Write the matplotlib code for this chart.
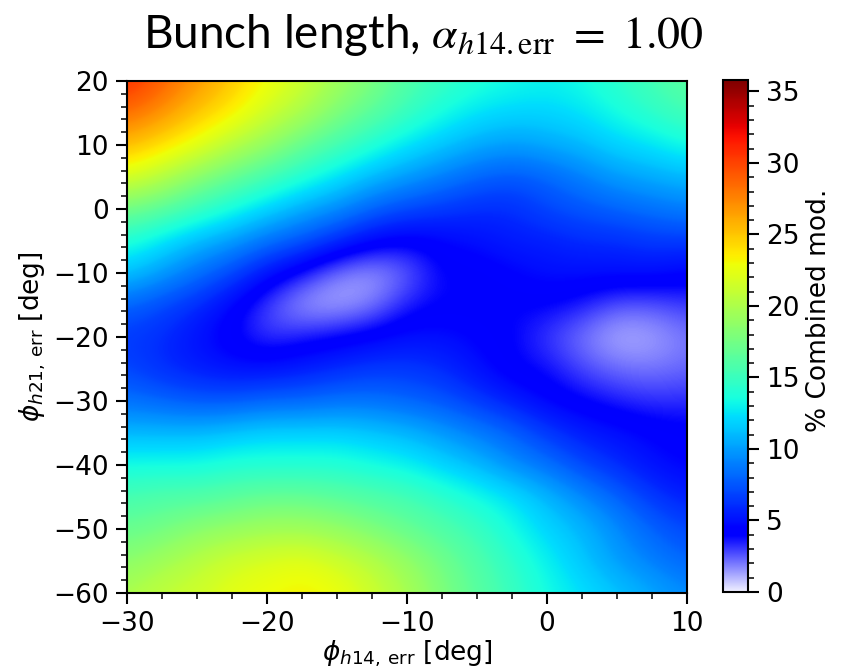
import matplotlib
matplotlib.use("Agg")
import matplotlib.pyplot as plt
import numpy as np
from matplotlib.colors import LinearSegmentedColormap
from matplotlib.ticker import MultipleLocator

# grid (values in % combined modulation)
phi_h14 = [-30, -27.5, -25, -22.5, -20, -17.5, -15, -12.5, -10,
           -7.5, -5, -2.5, 0, 2.5, 5, 7.5, 10]
phi_h21 = [20, 15, 10, 5, 0, -5, -10, -15, -20, -25, -30,
           -35, -40, -45, -50, -55, -60]

mod_rows = [
    [31, 29, 27, 25, 23, 21.5, 19.5, 18, 16, 15, 14, 13.5, 13, 13.5, 14.5, 15.5, 16.5],
    [28.5, 27, 25, 23.5, 21.5, 20, 18, 16.5, 15, 13.5, 12.5, 12, 12, 12.5, 13.5, 14.5, 15.5],
    [25.5, 24, 22.5, 20.5, 19, 17, 15.5, 14, 12.5, 11.5, 10.5, 10, 10.5, 11, 12, 12.5, 13.5],
    [22, 20.5, 18.5, 17, 15.5, 14, 12.5, 11, 10, 9, 8, 7.5, 8, 9, 10, 10.5, 11],
    [17.5, 16.5, 15, 13.5, 12, 10.5, 9.5, 8, 7, 6.5, 6, 6, 7, 7.5, 8, 8.5, 9],
    [14, 12.5, 11, 10, 8.5, 7.5, 6, 4.5, 4, 4.5, 5, 5.5, 5.5, 6, 6, 6.5, 6.5],
    [11.5, 10, 8.5, 7, 5, 3.5, 1.8, 1.3, 2.3, 4, 4, 4.5, 5, 5, 5, 5, 4.5],
    [8, 7, 6, 4.5, 2.8, 1.3, 1.1, 1.8, 3.5, 4, 4, 4, 4, 3.5, 2.5, 2.5, 3],
    [6.5, 6, 5, 4, 3, 3.5, 4, 4.5, 5, 5, 4.5, 4, 3, 2, 1, 1.2, 2],
    [7, 6, 5.5, 5, 5, 5.5, 6, 6.5, 6.5, 6, 5, 4, 3.8, 2.8, 2.2, 2, 2.3],
    [8.5, 8, 7.5, 7.5, 8, 8, 8.5, 8.5, 8, 7.5, 6.5, 5.5, 4.5, 4, 3.5, 3.2, 3.3],
    [11, 11, 11, 11.5, 12, 12, 12, 11.5, 11, 10, 9, 8, 6.5, 5.5, 5, 4.5, 4.2],
    [13.5, 13.5, 13.5, 14, 14, 14, 14, 13.5, 13, 12, 11, 9.5, 8.5, 7, 6, 5, 4.5],
    [15.5, 16, 16, 16.5, 17, 17, 16.5, 16, 15.5, 14.5, 13.5, 12.5, 11, 9.5, 8, 6.5, 5.5],
    [17, 17.5, 18.5, 19, 19.5, 19.5, 19, 18, 17, 16, 15, 13.5, 12, 11, 9.5, 8, 7],
    [18.5, 19.5, 20.5, 21.5, 22, 22.5, 21.5, 20.5, 19, 17.5, 16, 14.5, 13, 11.5, 10, 9, 8],
    [20, 21, 21.5, 22.5, 23, 23.5, 23, 21.5, 20, 18, 16.5, 15, 13.5, 12.5, 11.5, 10.5, 9.5],
]

# jet with a white -> blue start
jet = plt.get_cmap("jet")
stops = [(0.0, (0.95, 0.95, 1.0))] + [(t, jet(t)) for t in np.linspace(0.11, 1, 100)]
cmap = LinearSegmentedColormap.from_list("white_jet", stops, N=1024)

fig = plt.figure(figsize=(8.41, 6.70), dpi=100)
ax = fig.add_axes([127 / 841, 77 / 670, 560 / 841, 512 / 670])
cax = fig.add_axes([723 / 841, 78 / 670, 25 / 841, 512 / 670])

z = np.array(mod_rows)
dx = (phi_h14[1] - phi_h14[0]) / 2
dy = (phi_h21[0] - phi_h21[1]) / 2
im = ax.imshow(z, cmap=cmap, vmin=0, vmax=35.8, aspect="auto",
               interpolation="bicubic", origin="upper",
               extent=[phi_h14[0] - dx, phi_h14[-1] + dx,
                       phi_h21[-1] - dy, phi_h21[0] + dy])
ax.set_xlim(-30, 10)
ax.set_ylim(-60, 20)

fs = 19
ax.set_xticks([-30, -20, -10, 0, 10])
ax.set_yticks([-60, -50, -40, -30, -20, -10, 0, 10, 20])
ax.xaxis.set_minor_locator(MultipleLocator(2.5))
ax.yaxis.set_minor_locator(MultipleLocator(2))
ax.tick_params(which="major", length=8, width=1.5, labelsize=fs, pad=5)
ax.tick_params(which="minor", length=4, width=1.1)
for s in ax.spines.values():
    s.set_linewidth(1.5)

ax.set_xlabel(r"$\phi_{h14,\,\mathrm{err}}$ [deg]", fontsize=fs, labelpad=1)
ax.set_ylabel(r"$\phi_{h21,\,\mathrm{err}}$ [deg]", fontsize=fs, labelpad=4)

cb = fig.colorbar(im, cax=cax)
cb.set_ticks([0, 5, 10, 15, 20, 25, 30, 35])
cb.ax.yaxis.set_minor_locator(MultipleLocator(1))
cb.ax.tick_params(which="major", length=8, width=1.5, labelsize=fs, pad=5)
cb.ax.tick_params(which="minor", length=4, width=1.1)
cb.outline.set_linewidth(1.5)
cb.set_label("% Combined mod.", fontsize=fs)
cb.ax.yaxis.set_label_coords(3.3, 0.55)

fig.text(0.503, 0.928, r"Bunch length, $\alpha_{h14.\mathrm{err}}\ =\ 1.00$",
         ha="center", va="baseline", fontsize=33, family="Lato",
         math_fontfamily="stix")

fig.savefig("out.png", dpi=100)
